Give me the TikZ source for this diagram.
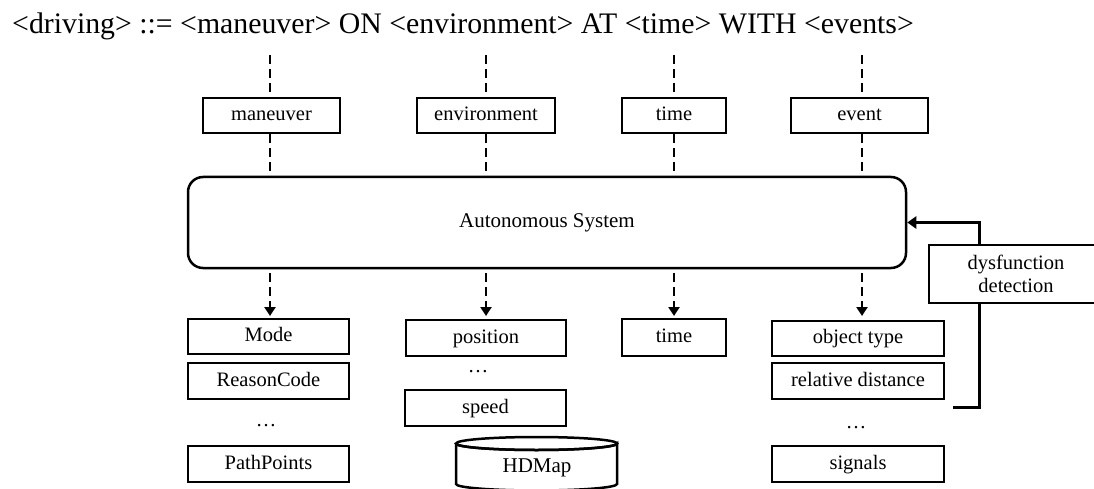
\documentclass[tikz,border=0pt]{standalone}
\usepackage{fontspec}
\setmainfont{Liberation Serif}
\usetikzlibrary{arrows.meta}
\tikzset{
  bx/.style={draw, line width=2.5pt, inner sep=0pt, fill=white, text height=14pt, text depth=4pt,
    font=\fontsize{20.5}{24}\selectfont},
  dsh/.style={line width=2.6pt, dash pattern=on 9pt off 5pt},
  dar/.style={dsh, -{Triangle[width=11pt,length=9pt]}},
  fb/.style={line width=3pt, -{Triangle[width=12pt,length=9pt]}},
  dots/.style={font=\fontsize{20.5}{24}\selectfont, inner sep=0pt},
}
\begin{document}
\begin{tikzpicture}[x=1pt,y=-1pt]
\useasboundingbox (0,0) rectangle (1094,489);
\clip (0,0) rectangle (1094,489);
% title
\node[anchor=base, inner sep=0pt, font=\fontsize{29.8}{34}\selectfont] (title) at (463,34)
  {<driving> ::= <maneuver> ON <environment> AT <time> WITH <events>};
% top coordinates
\coordinate (t1) at (270,55); \coordinate (t2) at (486,55);
\coordinate (t3) at (674,55); \coordinate (t4) at (862,55);
% top boxes
\node[bx, minimum width=137pt, minimum height=35pt] (man) at (271.5,115.5) {maneuver};
\node[bx, minimum width=138pt, minimum height=35pt] (env) at (486,115.5) {environment};
\node[bx, minimum width=104pt, minimum height=35pt] (tim) at (674,115.5) {time};
\node[bx, minimum width=137pt, minimum height=35pt] (evt) at (859.5,115.5) {event};
% autonomous system
\node[draw, line width=2.5pt, rounded corners=15pt, minimum width=718pt, minimum height=91pt,
      font=\fontsize{21}{24}\selectfont] (as) at (547,222.5) {Autonomous System};
% top dashes
\draw[dsh] (t1) -- (t1 |- man.north);
\draw[dsh] (t2) -- (t2 |- env.north);
\draw[dsh] (t3) -- (t3 |- tim.north);
\draw[dsh] (t4) -- (t4 |- evt.north);
\draw[dsh] (man.south -| t1) -- (t1 |- as.north);
\draw[dsh] (env.south -| t2) -- (t2 |- as.north);
\draw[dsh] (tim.south -| t3) -- (t3 |- as.north);
\draw[dsh] (evt.south -| t4) -- (t4 |- as.north);
% bottom boxes
\node[bx, minimum width=161pt, minimum height=35pt] (mode) at (268.5,336.5) {Mode};
\node[bx, minimum width=161pt, minimum height=36pt] (rc) at (268.5,381) {ReasonCode};
\node[dots] (d1) at (266,426) {\dots};
\node[bx, minimum width=161pt, minimum height=36pt] (pp) at (268.5,464) {PathPoints};
\node[bx, minimum width=160pt, minimum height=36pt] (pos) at (486,338) {position};
\node[dots] (d2) at (478,372) {\dots};
\node[bx, minimum width=161pt, minimum height=36pt] (spd) at (485.5,408) {speed};
\node[bx, minimum width=104pt, minimum height=37pt] (tim2) at (674,337.5) {time};
\node[bx, minimum width=172pt, minimum height=35pt] (obj) at (858,338.5) {object type};
\node[bx, minimum width=172pt, minimum height=36pt] (rel) at (858,381) {relative distance};
\node[dots] (d3) at (856,428) {\dots};
\node[bx, minimum width=172pt, minimum height=36pt] (sig) at (858,464) {signals};
% HDMap cylinder
\draw[line width=2.5pt, fill=white] (456,443.5) -- (456,484) arc[start angle=180, end angle=360, x radius=80.5pt, y radius=6.5pt]
  -- (617,443.5) arc[start angle=0, end angle=-180, x radius=80.5pt, y radius=6.5pt];
\draw[line width=2.5pt] (536.5,443.5) ellipse[x radius=80.5pt, y radius=6.5pt];
\node[font=\fontsize{21}{24}\selectfont, inner sep=0pt] (hd) at (537,468) {HDMap};
% down arrows
\coordinate (b1) at (270,273); \coordinate (b2) at (486,273);
\coordinate (b3) at (674,273); \coordinate (b4) at (862,273);
\draw[dar] (b1) -- (b1 |- 0,316);
\draw[dar] (b2) -- (b2 |- 0,316);
\draw[dar] (b3) -- (b3 |- 0,316);
\draw[dar] (b4) -- (b4 |- 0,316);
% feedback
\coordinate (fbs) at (953,407);
\draw[fb] (fbs) -- (979,407) |- (as.east);
\node[bx, minimum width=174pt, minimum height=58pt, align=center, text height=, text depth=] (dys) at (1016,274)
  {dysfunction\\[-1pt]detection};
\end{tikzpicture}
\end{document}
